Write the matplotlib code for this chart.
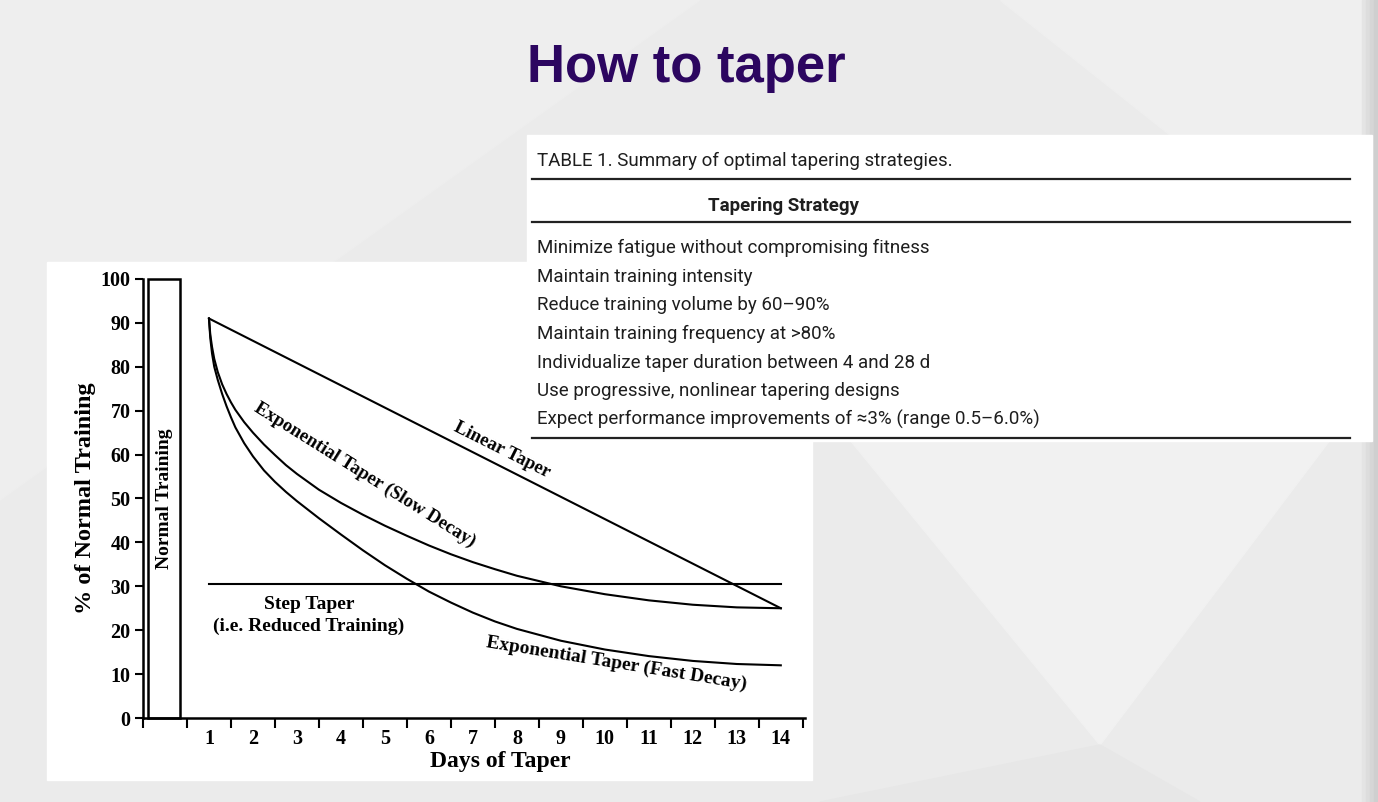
import numpy as np
import matplotlib
matplotlib.use('Agg')
import matplotlib.pyplot as plt
from matplotlib.patches import Rectangle, Polygon

W, H = 1378, 802

# chart data
days_fast = [1, 1.03, 1.07, 1.12, 1.2, 1.3, 1.4, 1.5, 1.6, 1.8, 2, 2.25, 2.5, 2.75, 3, 3.5, 4, 4.5, 5, 5.5, 6, 6.5, 7, 7.5, 8, 9, 10, 11, 12, 13, 14]
fast_decay = [91, 86.5, 83, 80, 77, 73.8, 71, 68.5, 66.2, 62.6, 59.6, 56.4, 53.8, 51.5, 49.4, 45.5, 41.8, 38.2, 34.8, 31.7, 28.8, 26.3, 24, 22, 20.3, 17.6, 15.6, 14.1, 13, 12.3, 12]
days_slow = [1, 1.03, 1.07, 1.12, 1.2, 1.3, 1.4, 1.5, 1.6, 1.8, 2, 2.25, 2.5, 2.75, 3, 3.5, 4, 4.5, 5, 5.5, 6, 6.5, 7, 7.5, 8, 9, 10, 11, 12, 13, 14]
slow_decay = [91, 87.3, 84.5, 81.8, 78.8, 76, 73.8, 71.9, 70.2, 67.4, 65, 62.3, 59.9, 57.6, 55.6, 52, 49, 46.3, 43.8, 41.5, 39.3, 37.3, 35.5, 33.9, 32.4, 30, 28.2, 26.8, 25.8, 25.2, 25]
linear_days = [1, 14]
linear_taper = [91, 25]
step_days = [1, 14]
step_taper = [30.5, 30.5]
normal_training = 100
day_ticks = list(range(1, 15))
pct_ticks = list(range(0, 101, 10))

table_caption = 'TABLE 1. Summary of optimal tapering strategies.'
table_header = 'Tapering Strategy'
table_rows = [
    'Minimize fatigue without compromising fitness',
    'Maintain training intensity',
    'Reduce training volume by 60\u201390%',
    'Maintain training frequency at >80%',
    'Individualize taper duration between 4 and 28 d',
    'Use progressive, nonlinear tapering designs',
    'Expect performance improvements of \u22483% (range 0.5\u20136.0%)',
]

serif = ['Liberation Serif', 'DejaVu Serif']
narrow = ['Roboto', 'Liberation Sans', 'DejaVu Sans']

fig = plt.figure(figsize=(W / 100, H / 100), dpi=100)

# slide background in pixel coords
bg = fig.add_axes([0, 0, 1, 1], zorder=0)
bg.set_xlim(0, W)
bg.set_ylim(H, 0)
bg.axis('off')
bg.add_patch(Rectangle((0, 0), W, H, color='#ebebeb'))
bg.add_patch(Polygon([(0, 0), (700, 0), (0, 500)], color='#eeeeee'))
bg.add_patch(Polygon([(850, 440), (1330, 440), (1100, 745)], color='#f1f1f1'))
bg.add_patch(Polygon([(820, 802), (1100, 745), (1200, 802)], color='#e7e7e7'))
bg.add_patch(Polygon([(1000, 0), (1378, 0), (1378, 300)], color='#efefef'))
for i, c in enumerate(['#e4e4e4', '#dddddd', '#d6d6d6', '#cfcfcf']):
    bg.add_patch(Rectangle((1362 + 4 * i, 0), 4, H, color=c))
bg.text(686, 82, 'How to taper', ha='center', va='baseline', fontsize=38,
        fontweight='bold', color='#2c0660', family=['Liberation Sans', 'DejaVu Sans'])
bg.add_patch(Rectangle((47, 262), 765, 518, color='white'))

# chart
ax = fig.add_axes([143 / W, 1 - 718 / H, 662 / W, 439 / H], zorder=1)
ax.patch.set_visible(False)
ax.set_xlim(-0.5, 14.55)
ax.set_ylim(0, 100)
for s in ['top', 'right']:
    ax.spines[s].set_visible(False)
for s in ['left', 'bottom']:
    ax.spines[s].set_linewidth(1.8)

ax.bar(-0.02, normal_training, width=0.73, color='white', edgecolor='black', linewidth=1.8, clip_on=False)
ax.text(-0.02, 50, 'Normal Training', rotation=90, ha='center', va='center',
        fontsize=14, fontweight='bold', family=serif)

lw = 1.5
ax.plot(linear_days, linear_taper, color='black', lw=lw)
ax.plot(step_days, step_taper, color='black', lw=lw)
ax.plot(days_slow, slow_decay, color='black', lw=lw)
ax.plot(days_fast, fast_decay, color='black', lw=lw)

ax.text(7.65, 61.0, 'Linear Taper', rotation=-26.6, ha='center', va='center',
        fontsize=13.5, fontweight='bold', family=serif)
ax.text(4.55, 55.3, 'Exponential Taper (Slow Decay)', rotation=-32, ha='center', va='center',
        fontsize=13.5, fontweight='bold', family=serif)
ax.text(10.27, 12.3, 'Exponential Taper (Fast Decay)', rotation=-9.2, ha='center', va='center',
        fontsize=14, fontweight='bold', family=serif)
ax.text(3.27, 23.4, 'Step Taper\n(i.e. Reduced Training)', ha='center', va='center',
        fontsize=14, fontweight='bold', family=serif, linespacing=1.35)

ax.set_yticks(pct_ticks)
ax.set_yticklabels([str(v) for v in pct_ticks], fontsize=14.5, fontweight='bold', family=serif)
ax.tick_params(axis='y', direction='out', length=6, width=1.5, pad=3)
ax.set_xticks(np.arange(-0.5, 15, 1.0))
ax.set_xticklabels([])
ax.tick_params(axis='x', which='major', direction='out', length=7, width=1.5)
ax.set_xticks(day_ticks, minor=True)
ax.set_xticklabels([str(d) for d in day_ticks], minor=True, fontsize=14.5, fontweight='bold', family=serif)
ax.tick_params(axis='x', which='minor', length=0, pad=8)

ax.set_ylabel('% of Normal Training', fontsize=17.5, fontweight='bold', family=serif, va='center')
ax.yaxis.set_label_coords((86 - 143) / 662, 0.5)
ax.set_xlabel('Days of Taper', fontsize=17, fontweight='bold', family=serif, va='center')
ax.xaxis.set_label_coords((500 - 143) / 662, (718 - 762) / 439)

# table overlay
tb = fig.add_axes([0, 0, 1, 1], zorder=2)
tb.set_xlim(0, W)
tb.set_ylim(H, 0)
tb.axis('off')
tb.add_patch(Rectangle((527, 135), 845, 306, color='white'))
tb.text(537, 166, table_caption, ha='left', va='baseline', fontsize=13.5, color='#1e1e1e', family=narrow)
for y in [179, 222, 438]:
    tb.plot([532, 1350], [y, y], color='#222222', lw=1.6)
tb.text(783, 211, table_header, ha='center', va='baseline', fontsize=13.5, fontweight='bold',
        color='#1e1e1e', family=narrow)
for i, row in enumerate(table_rows):
    tb.text(537, 253 + i * 28.7, row, ha='left', va='baseline', fontsize=13.5, color='#1e1e1e', family=narrow)

fig.savefig('out.png', dpi=100)
